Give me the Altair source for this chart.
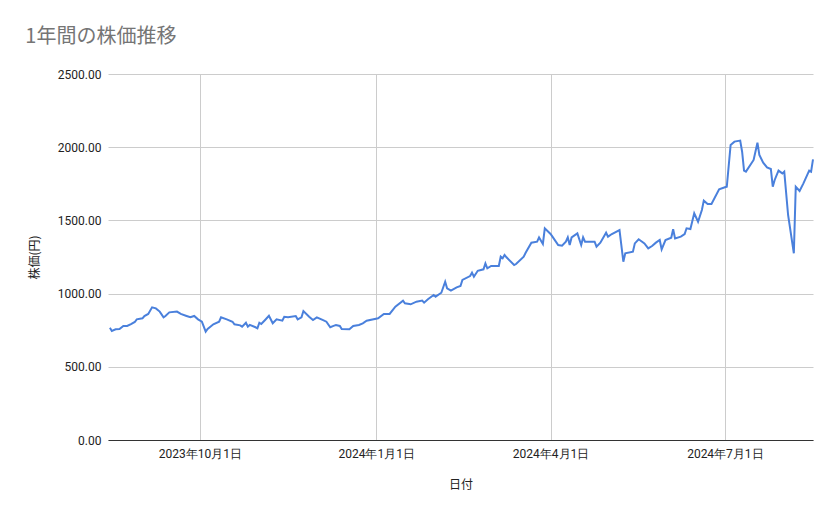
import altair as alt
import pandas as pd

dates = [
    "2023-08-15", "2023-08-16", "2023-08-18", "2023-08-20", "2023-08-22", "2023-08-24",
    "2023-08-26", "2023-08-28", "2023-08-29", "2023-09-01", "2023-09-02", "2023-09-04",
    "2023-09-06", "2023-09-08", "2023-09-10", "2023-09-12", "2023-09-13", "2023-09-15",
    "2023-09-19", "2023-09-21", "2023-09-24", "2023-09-26", "2023-09-28", "2023-09-30",
    "2023-10-02", "2023-10-04", "2023-10-05", "2023-10-08", "2023-10-11", "2023-10-12",
    "2023-10-15", "2023-10-18", "2023-10-19", "2023-10-22", "2023-10-23", "2023-10-25",
    "2023-10-26", "2023-10-27", "2023-10-30", "2023-10-31", "2023-11-01", "2023-11-02",
    "2023-11-04", "2023-11-06", "2023-11-08", "2023-11-10", "2023-11-13", "2023-11-14",
    "2023-11-16", "2023-11-20", "2023-11-21", "2023-11-23", "2023-11-24", "2023-11-27",
    "2023-11-29", "2023-12-01", "2023-12-04", "2023-12-06", "2023-12-08", "2023-12-11",
    "2023-12-13", "2023-12-14", "2023-12-18", "2023-12-20", "2023-12-23", "2023-12-25",
    "2023-12-27", "2024-01-02", "2024-01-05", "2024-01-08", "2024-01-11", "2024-01-15",
    "2024-01-16", "2024-01-19", "2024-01-22", "2024-01-25", "2024-01-26", "2024-01-28",
    "2024-01-31", "2024-02-01", "2024-02-04", "2024-02-06", "2024-02-07", "2024-02-09",
    "2024-02-12", "2024-02-14", "2024-02-15", "2024-02-19", "2024-02-20", "2024-02-21",
    "2024-02-23", "2024-02-26", "2024-02-27", "2024-02-28", "2024-03-01", "2024-03-05",
    "2024-03-06", "2024-03-07", "2024-03-08", "2024-03-09", "2024-03-13", "2024-03-14",
    "2024-03-18", "2024-03-19", "2024-03-22", "2024-03-25", "2024-03-26", "2024-03-28",
    "2024-03-29", "2024-04-01", "2024-04-02", "2024-04-05", "2024-04-07", "2024-04-09",
    "2024-04-10", "2024-04-11", "2024-04-12", "2024-04-15", "2024-04-17", "2024-04-18",
    "2024-04-19", "2024-04-24", "2024-04-25", "2024-04-27", "2024-04-30", "2024-05-01",
    "2024-05-03", "2024-05-07", "2024-05-09", "2024-05-10", "2024-05-14", "2024-05-15",
    "2024-05-17", "2024-05-20", "2024-05-22", "2024-05-24", "2024-05-26", "2024-05-28",
    "2024-05-29", "2024-05-31", "2024-06-03", "2024-06-04", "2024-06-05", "2024-06-08",
    "2024-06-10", "2024-06-11", "2024-06-13", "2024-06-15", "2024-06-17", "2024-06-19",
    "2024-06-20", "2024-06-22", "2024-06-24", "2024-06-28", "2024-07-01", "2024-07-02",
    "2024-07-04", "2024-07-06", "2024-07-09", "2024-07-10", "2024-07-11", "2024-07-12",
    "2024-07-16", "2024-07-18", "2024-07-19", "2024-07-21", "2024-07-23", "2024-07-25",
    "2024-07-26", "2024-07-27", "2024-07-29", "2024-07-31", "2024-08-01", "2024-08-03",
    "2024-08-06", "2024-08-07", "2024-08-09", "2024-08-11", "2024-08-14", "2024-08-15",
    "2024-08-16",
]

prices = [
    767, 745, 756, 758, 779, 779,
    792, 806, 824, 831, 847, 861,
    906, 899, 877, 838, 847, 872,
    877, 861, 847, 838, 847, 824,
    808, 740, 758, 790, 808, 838,
    824, 808, 790, 783, 774, 801,
    774, 786, 770, 763, 801, 792,
    820, 849, 797, 824, 815, 842,
    838, 847, 824, 838, 881, 842,
    820, 838, 820, 808, 770, 786,
    779, 758, 756, 779, 786, 797,
    815, 831, 861, 861, 911, 952,
    934, 927, 945, 952, 938, 961,
    990, 979, 1006, 1081, 1036, 1020,
    1043, 1052, 1093, 1120, 1143, 1115,
    1156, 1166, 1206, 1173, 1189, 1189,
    1252, 1241, 1264, 1248, 1195, 1202,
    1252, 1279, 1348, 1355, 1384, 1339,
    1446, 1407, 1389, 1332, 1327, 1355,
    1384, 1332, 1384, 1411, 1332, 1384,
    1355, 1355, 1321, 1348, 1416, 1389,
    1407, 1434, 1218, 1275, 1286, 1343,
    1371, 1343, 1309, 1325, 1348, 1366,
    1302, 1366, 1382, 1439, 1377, 1389,
    1407, 1446, 1441, 1548, 1491, 1571,
    1635, 1612, 1612, 1712, 1726, 1730,
    2015, 2038, 2045, 1969, 1840, 1833,
    1913, 2031, 1947, 1894, 1862, 1851,
    1730, 1776, 1840, 1821, 1833, 1537,
    1275, 1730, 1701, 1753, 1840, 1833,
    1917,
]

y_ticks = [0, 500, 1000, 1500, 2000, 2500]
x_tick_dates = [(2023, 10, 1), (2024, 1, 1), (2024, 4, 1), (2024, 7, 1)]

df = pd.DataFrame({"日付": dates, "株価": prices})

FONT = "Roboto"
CJK = "Noto Sans CJK JP"

chart = (
    alt.Chart(df)
    .mark_line(color="#4a80dc", strokeWidth=2)
    .encode(
        x=alt.X(
            "日付:T",
            scale=alt.Scale(type="utc", domain=[
                alt.DateTime(year=2023, month=8, date=14, utc=True),
                alt.DateTime(year=2024, month=8, date=16, utc=True),
            ], nice=False),
            axis=alt.Axis(
                title="日付",
                values=[alt.DateTime(year=y, month=m, date=d, utc=True) for y, m, d in x_tick_dates],
                labelExpr="utcFormat(datum.value, '%Y') + '年' + (utcmonth(datum.value) + 1) + '月' + utcdate(datum.value) + '日'",
                grid=True,
                gridColor="#cccccc",
                ticks=False,
                domain=True,
                domainColor="#333333",
                labelPadding=8,
                titlePadding=20,
                labelFont=FONT,
                labelFontSize=12,
                labelColor="#222222",
                titleFont=CJK,
                titleFontSize=12,
                titleFontWeight="normal",
                titleColor="#222222",
            ),
        ),
        y=alt.Y(
            "株価:Q",
            scale=alt.Scale(domain=[0, 2500], nice=False),
            axis=alt.Axis(
                title="株価(円)",
                values=y_ticks,
                format=".2f",
                grid=True,
                gridColor="#cccccc",
                ticks=False,
                domain=False,
                labelPadding=7,
                titlePadding=16,
                labelFont=FONT,
                labelFontSize=12,
                labelColor="#222222",
                titleFont=CJK,
                titleFontSize=12,
                titleFontWeight="normal",
                titleColor="#222222",
            ),
        ),
    )
    .properties(
        width=705,
        height=366,
        background="white",
        title=alt.TitleParams(
            "1年間の株価推移",
            anchor="start",
            frame="bounds",
            font=CJK,
            fontSize=20,
            fontWeight="normal",
            color="#757575",
            offset=21,
            dx=-3,
        ),
        autosize=alt.AutoSizeParams(type="none"),
        padding={"left": 100, "top": 66, "right": 18, "bottom": 70},
    )
    .configure_view(stroke=None)
)

chart.save("out.html", embed_options={"renderer": "svg", "actions": False})
